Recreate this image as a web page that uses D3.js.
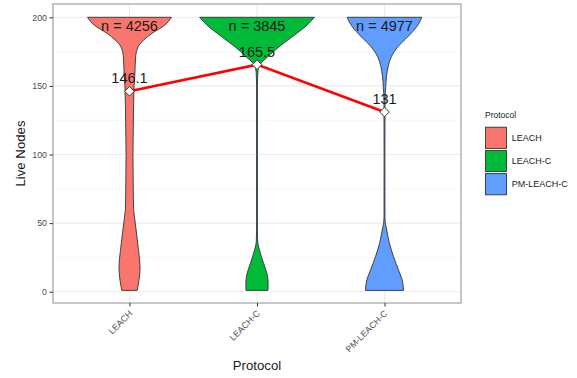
<!DOCTYPE html>
<html>
<head>
<meta charset="utf-8">
<script src="https://cdn.jsdelivr.net/npm/d3@7/dist/d3.min.js"></script>
<style>
  html, body { margin: 0; padding: 0; background: #fff; }
  svg { display: block; font-family: "Liberation Sans", Arial, sans-serif; }
</style>
</head>
<body>
<svg id="chart" width="577" height="378"></svg>
<script>
// Live nodes per protocol: violin densities, mean line and sample counts
const protocols = ["LEACH", "LEACH-C", "PM-LEACH-C"];
const sampleCounts = [4256, 3845, 4977];
const meanNodes = [146.1, 165.5, 131];
const yTicks = [0, 50, 100, 150, 200];
const yMinorTicks = [25, 75, 125, 175];

// [live nodes, relative density]
const densityLEACH = [
  [1, 0.134], [8.5, 0.166], [18, 0.184], [30, 0.158], [45, 0.115], [55, 0.085],
  [60, 0.072], [80, 0.064], [100, 0.060], [120, 0.066], [150, 0.080], [157, 0.092],
  [171, 0.106], [178.6, 0.151], [183.5, 0.249], [188.3, 0.391], [194.4, 0.617], [200, 0.732]
];
const densityLEACHC = [
  [1, 0.192], [7.3, 0.194], [13.4, 0.172], [20.7, 0.115], [30.4, 0.043], [36.4, 0.012],
  [45, 0.007], [100, 0.006], [150, 0.007], [160, 0.015], [162.8, 0.026], [166.5, 0.069],
  [171.3, 0.189], [178.6, 0.386], [185.9, 0.617], [194.4, 0.875], [200, 1.0]
];
const densityPMLEACHC = [
  [1, 0.331], [8.5, 0.309], [15.8, 0.244], [25.5, 0.158], [35.3, 0.086], [45, 0.039],
  [50, 0.015], [55, 0.008], [100, 0.007], [140, 0.009], [149.4, 0.021], [156.7, 0.034],
  [164, 0.063], [171.3, 0.120], [178.6, 0.235], [185.9, 0.407], [193.1, 0.561], [200, 0.652]
];
const densities = [densityLEACH, densityLEACHC, densityPMLEACHC];
const fills = ["#F8766D", "#00BA38", "#619CFF"];

const svg = d3.select("#chart");
const panel = { left: 53, right: 461, top: 4, bottom: 303 };

const x = d3.scalePoint().domain(protocols).range([panel.left, panel.right]).padding(0.6);
const y = d3.scaleLinear().domain([-8.2, 209.7]).range([panel.bottom, panel.top]);
const halfWidth = d3.scaleLinear().domain([0, 1]).range([0, 0.45 * x.step()]);

// panel background and grid
svg.append("rect")
  .attr("x", panel.left).attr("y", panel.top)
  .attr("width", panel.right - panel.left).attr("height", panel.bottom - panel.top)
  .attr("fill", "#fff");

const grid = svg.append("g");
grid.selectAll("line.minor").data(yMinorTicks).join("line")
  .attr("x1", panel.left).attr("x2", panel.right)
  .attr("y1", d => y(d)).attr("y2", d => y(d))
  .attr("stroke", "#f4f4f4").attr("stroke-width", 0.7);
grid.selectAll("line.major").data(yTicks).join("line")
  .attr("x1", panel.left).attr("x2", panel.right)
  .attr("y1", d => y(d)).attr("y2", d => y(d))
  .attr("stroke", "#ebebeb").attr("stroke-width", 1.1);
grid.selectAll("line.vmajor").data(protocols).join("line")
  .attr("x1", d => x(d)).attr("x2", d => x(d))
  .attr("y1", panel.top).attr("y2", panel.bottom)
  .attr("stroke", "#ebebeb").attr("stroke-width", 1.1);

// violins
const violinArea = d3.area()
  .y(d => y(d[0]))
  .curve(d3.curveMonotoneY);

const violins = svg.append("g");
protocols.forEach((p, i) => {
  const cx = x(p);
  violins.append("path")
    .datum(densities[i])
    .attr("d", violinArea
      .x0(d => cx - Math.max(halfWidth(d[1]), 0.4))
      .x1(d => cx + Math.max(halfWidth(d[1]), 0.4)))
    .attr("fill", fills[i])
    .attr("stroke", "#333")
    .attr("stroke-width", 0.9);
});

// mean line and points
const meanData = protocols.map((p, i) => ({ p, v: meanNodes[i] }));
svg.append("path")
  .datum(meanData)
  .attr("d", d3.line().x(d => x(d.p)).y(d => y(d.v)))
  .attr("fill", "none")
  .attr("stroke", "#ff0000")
  .attr("stroke-width", 2.6);

svg.append("g").selectAll("path").data(meanData).join("path")
  .attr("transform", d => `translate(${x(d.p)},${y(d.v)}) rotate(45)`)
  .attr("d", d3.symbol().type(d3.symbolSquare).size(46))
  .attr("fill", "#fff")
  .attr("stroke", "#333")
  .attr("stroke-width", 0.9);

// mean labels
svg.append("g").selectAll("text").data(meanData).join("text")
  .attr("x", d => x(d.p))
  .attr("y", d => y(d.v) - 8)
  .attr("text-anchor", "middle")
  .attr("font-size", 14.5)
  .attr("fill", "#1a1a1a")
  .text(d => d3.format("")(d.v));

// sample size labels
svg.append("g").selectAll("text").data(protocols).join("text")
  .attr("x", d => x(d))
  .attr("y", y(200) + 14)
  .attr("text-anchor", "middle")
  .attr("font-size", 14.5)
  .attr("fill", "#1a1a1a")
  .text((d, i) => `n = ${sampleCounts[i]}`);

// panel border
svg.append("rect")
  .attr("x", panel.left).attr("y", panel.top)
  .attr("width", panel.right - panel.left).attr("height", panel.bottom - panel.top)
  .attr("fill", "none")
  .attr("stroke", "#a0a0a0")
  .attr("stroke-width", 1.2);

// y axis
const yAxis = svg.append("g")
  .attr("transform", `translate(${panel.left},0)`)
  .call(d3.axisLeft(y).tickValues(yTicks).tickSize(3.5).tickPadding(2.5));
yAxis.select(".domain").remove();
yAxis.selectAll(".tick line").attr("stroke", "#333").attr("stroke-width", 1);
yAxis.selectAll(".tick text")
  .attr("fill", "#4d4d4d")
  .attr("font-size", 8.8)
  .attr("font-family", "Liberation Sans, Arial, sans-serif");

// x axis
const xAxis = svg.append("g")
  .attr("transform", `translate(0,${panel.bottom})`)
  .call(d3.axisBottom(x).tickSize(3.5).tickPadding(0));
xAxis.select(".domain").remove();
xAxis.selectAll(".tick line").attr("stroke", "#333").attr("stroke-width", 1);
xAxis.selectAll(".tick text")
  .attr("fill", "#4d4d4d")
  .attr("font-size", 8.8)
  .attr("font-family", "Liberation Sans, Arial, sans-serif")
  .attr("text-anchor", "end")
  .attr("dy", null)
  .attr("y", null)
  .attr("transform", "translate(3,11) rotate(-45)");

// axis titles
svg.append("text")
  .attr("x", (panel.left + panel.right) / 2)
  .attr("y", 370)
  .attr("text-anchor", "middle")
  .attr("font-size", 13.2)
  .attr("fill", "#1a1a1a")
  .text("Protocol");

svg.append("text")
  .attr("transform", `translate(25,${(panel.top + panel.bottom) / 2}) rotate(-90)`)
  .attr("text-anchor", "middle")
  .attr("font-size", 13.2)
  .attr("fill", "#1a1a1a")
  .text("Live Nodes");

// legend
const legend = svg.append("g").attr("transform", "translate(485,0)");
legend.append("text")
  .attr("x", 0).attr("y", 117.5)
  .attr("font-size", 8.5)
  .attr("fill", "#1a1a1a")
  .text("Protocol");
const keys = legend.selectAll("g.key").data(protocols).join("g")
  .attr("transform", (d, i) => `translate(0,${126.7 + i * 23.2})`);
keys.append("rect")
  .attr("x", 0.5).attr("y", 0.5)
  .attr("width", 21).attr("height", 21.2)
  .attr("fill", (d, i) => fills[i])
  .attr("stroke", "#333")
  .attr("stroke-width", 0.9);
keys.append("text")
  .attr("x", 26.7).attr("y", 11)
  .attr("dy", "0.35em")
  .attr("font-size", 9)
  .attr("fill", "#1a1a1a")
  .text(d => d);
</script>
</body>
</html>
